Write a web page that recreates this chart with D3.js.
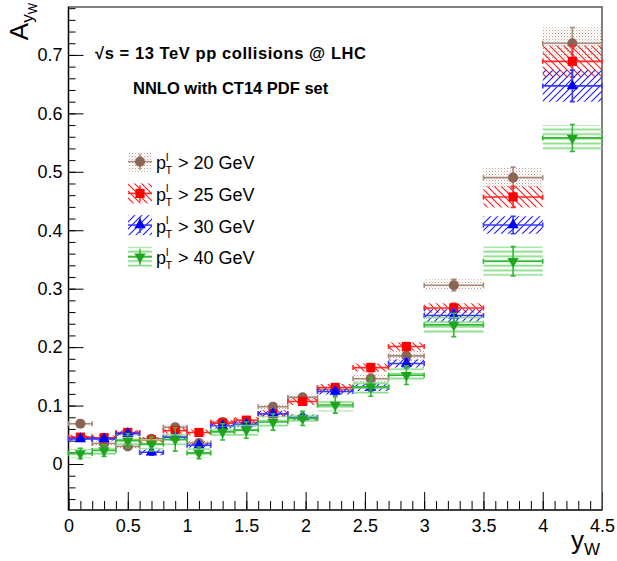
<!DOCTYPE html>
<html><head><meta charset="utf-8">
<script src="https://cdn.jsdelivr.net/npm/d3@7"></script>
<style>body{margin:0;background:#fff}svg{display:block;font-family:"Liberation Sans",Arial,Helvetica,sans-serif}</style>
</head><body><svg id="c" width="617" height="561"></svg>
<script>
// ---- data ----
const binEdges = [0,0.2,0.4,0.6,0.8,1.0,1.2,1.4,1.6,1.85,2.1,2.4,2.7,3.0,3.5,4.0,4.5];

const pt20Val  = [0.069,0.035,0.030,0.043,0.063,0.036,0.072,0.071,0.098,0.114,0.128,0.146,0.185,0.306,0.490,0.720];
const pt20Sys  = [0.004,0.004,0.004,0.004,0.005,0.005,0.005,0.005,0.006,0.006,0.007,0.008,0.009,0.010,0.017,0.027];
const pt20Stat = [0.004,0.004,0.004,0.004,0.005,0.005,0.005,0.005,0.006,0.006,0.007,0.008,0.009,0.010,0.018,0.027];

const pt25Val  = [0.046,0.045,0.054,0.041,0.057,0.054,0.070,0.075,0.086,0.107,0.131,0.165,0.201,0.267,0.457,0.689];
const pt25Sys  = [0.004,0.004,0.004,0.005,0.005,0.005,0.005,0.005,0.006,0.006,0.006,0.007,0.007,0.008,0.018,0.027];
const pt25Stat = [0.004,0.004,0.004,0.005,0.005,0.005,0.005,0.005,0.006,0.006,0.006,0.007,0.007,0.008,0.018,0.027];

const pt30Val  = [0.043,0.043,0.052,0.020,0.046,0.032,0.065,0.068,0.086,0.080,0.124,0.131,0.172,0.254,0.409,0.647];
const pt30Sys  = [0.003,0.003,0.004,0.005,0.004,0.004,0.004,0.005,0.005,0.005,0.005,0.006,0.007,0.011,0.015,0.027];
const pt30Stat = [0.004,0.004,0.004,0.005,0.005,0.005,0.005,0.005,0.006,0.006,0.006,0.007,0.008,0.011,0.015,0.027];

const pt40Val  = [0.018,0.023,0.040,0.034,0.042,0.019,0.055,0.058,0.072,0.078,0.101,0.132,0.152,0.238,0.347,0.558];
const pt40Sys  = [0.008,0.008,0.009,0.009,0.010,0.008,0.010,0.010,0.010,0.010,0.011,0.012,0.012,0.014,0.025,0.022];
const pt40Stat = [0.009,0.010,0.012,0.012,0.020,0.010,0.014,0.014,0.014,0.012,0.014,0.016,0.016,0.020,0.025,0.023];

const legendCuts = ["20","25","30","40"];
const xTicks = [0,0.5,1,1.5,2,2.5,3,3.5,4,4.5];
const xTickLabels = ["0","0.5","1","1.5","2","2.5","3","3.5","4","4.5"];
const yTicks = [0,0.1,0.2,0.3,0.4,0.5,0.6,0.7];
const yTickLabels = ["0","0.1","0.2","0.3","0.4","0.5","0.6","0.7"];

// ---- setup ----
const svg = d3.select("#c");
const L = 68.5, R = 602, T = 7, B = 510;
const x = d3.scaleLinear().domain([0,4.5]).range([L,R]);
const y = d3.scaleLinear().domain([-0.0787,0.782]).range([B,T]);

const defs = svg.append("defs");
const pb = defs.append("pattern").attr("id","patBrown").attr("patternUnits","userSpaceOnUse").attr("width",3).attr("height",3);
pb.append("rect").attr("x",0).attr("y",0).attr("width",1).attr("height",1).attr("fill","#b9a095");
pb.append("rect").attr("x",1.5).attr("y",1.5).attr("width",1).attr("height",1).attr("fill","#d5c6be");
const pr = defs.append("pattern").attr("id","patRed").attr("patternUnits","userSpaceOnUse").attr("width",7).attr("height",7);
pr.append("path").attr("d","M0,0L7,7M-2,5L2,9M5,-2L9,2").attr("stroke","#ff1a1a").attr("stroke-width",1.1).attr("fill","none");
const pbl = defs.append("pattern").attr("id","patBlue").attr("patternUnits","userSpaceOnUse").attr("width",7).attr("height",7);
pbl.append("path").attr("d","M0,7L7,0M-2,2L2,-2M5,9L9,5").attr("stroke","#1a1aff").attr("stroke-width",1.1).attr("fill","none");
const pg = defs.append("pattern").attr("id","patGreen").attr("patternUnits","userSpaceOnUse").attr("width",6).attr("height",4.7);
pg.append("rect").attr("x",0).attr("y",1.6).attr("width",6).attr("height",1.8).attr("fill","#86dc86");

const series = [
  {val:pt20Val, sys:pt20Sys, stat:pt20Stat, pat:"url(#patBrown)", bar:"#a88a7c", mark:"#8c6454", sym:d3.symbolCircle, size:80, rot:0},
  {val:pt25Val, sys:pt25Sys, stat:pt25Stat, pat:"url(#patRed)", bar:"#ff2a2a", mark:"#ff0000", sym:d3.symbolSquare, size:84, rot:0},
  {val:pt30Val, sys:pt30Sys, stat:pt30Stat, pat:"url(#patBlue)", bar:"#3a3aff", mark:"#0000ff", sym:d3.symbolTriangle, size:55, rot:0},
  {val:pt40Val, sys:pt40Sys, stat:pt40Stat, pat:"url(#patGreen)", bar:"#36b836", mark:"#1ea51e", sym:d3.symbolTriangle, size:55, rot:180}
];

// ---- axes ----
const xMinor = d3.range(0,4.5001,0.1).map(v=>+v.toFixed(2));
svg.append("g").attr("transform",`translate(0,${B})`)
  .call(d3.axisBottom(x).tickValues(xMinor).tickSizeInner(-9).tickSizeOuter(0).tickFormat(""))
  .call(g=>g.select(".domain").remove());
svg.append("g").attr("transform",`translate(0,${B})`)
  .call(d3.axisBottom(x).tickValues(xTicks).tickSizeInner(-18).tickSizeOuter(0).tickPadding(9)
    .tickFormat((d,i)=>xTickLabels[i]))
  .call(g=>g.select(".domain").remove())
  .call(g=>g.selectAll("text").attr("font-size",18).attr("font-family","Liberation Sans, Arial, sans-serif").attr("fill","#000"));

const yMinor = d3.range(-0.06,0.7801,0.02).map(v=>+v.toFixed(2));
svg.append("g").attr("transform",`translate(${L},0)`)
  .call(d3.axisLeft(y).tickValues(yMinor).tickSizeInner(-7).tickSizeOuter(0).tickFormat(""))
  .call(g=>g.select(".domain").remove());
svg.append("g").attr("transform",`translate(${L},0)`)
  .call(d3.axisLeft(y).tickValues(yTicks).tickSizeInner(-15).tickSizeOuter(0).tickPadding(6)
    .tickFormat((d,i)=>yTickLabels[i]))
  .call(g=>g.select(".domain").remove())
  .call(g=>g.selectAll("text").attr("font-size",18).attr("font-family","Liberation Sans, Arial, sans-serif").attr("fill","#000"));

svg.append("rect").attr("x",L).attr("y",T).attr("width",R-L).attr("height",B-T)
  .attr("fill","none").attr("stroke","#555").attr("stroke-width",1.5);
svg.append("line").attr("x1",L).attr("x2",L).attr("y1",T).attr("y2",B).attr("stroke","#000").attr("stroke-width",1.2);
svg.append("line").attr("x1",L).attr("x2",R).attr("y1",B).attr("y2",B).attr("stroke","#000").attr("stroke-width",1.2);

// ---- data drawing ----
const bins = d3.range(binEdges.length-1).map(i=>({lo:binEdges[i],hi:binEdges[i+1],c:(binEdges[i]+binEdges[i+1])/2,i}));
const plot = svg.append("g");
const cap = 2.5;
series.forEach(s=>{
  const g = plot.append("g");
  g.selectAll("rect.box").data(bins).join("rect").attr("class","box")
    .attr("x",d=>x(d.lo)).attr("width",d=>x(d.hi)-x(d.lo))
    .attr("y",d=>y(s.val[d.i]+s.sys[d.i])).attr("height",d=>y(s.val[d.i]-s.sys[d.i])-y(s.val[d.i]+s.sys[d.i]))
    .attr("fill",s.pat);
  const eb = g.append("g").attr("stroke",s.bar).attr("stroke-width",1.6).attr("fill","none");
  bins.forEach(d=>{
    const yy = y(s.val[d.i]), xc = x(d.c);
    const y1 = y(s.val[d.i]+s.stat[d.i]), y2 = y(s.val[d.i]-s.stat[d.i]);
    eb.append("path").attr("d",
      `M${x(d.lo)},${yy}H${x(d.hi)}M${x(d.lo)},${yy-cap}V${yy+cap}M${x(d.hi)},${yy-cap}V${yy+cap}`+
      `M${xc},${y1}V${y2}M${xc-cap},${y1}H${xc+cap}M${xc-cap},${y2}H${xc+cap}`);
  });
  g.selectAll("path.m").data(bins).join("path").attr("class","m")
    .attr("d",d3.symbol().type(s.sym).size(s.size))
    .attr("transform",d=>`translate(${x(d.c)},${y(s.val[d.i])}) rotate(${s.rot})`)
    .attr("fill",s.mark);
});

// ---- legend ----
const lg = svg.append("g");
series.forEach((s,i)=>{
  const cy = 161.7 + i*31.7;
  lg.append("rect").attr("x",128).attr("y",cy-10).attr("width",24).attr("height",20).attr("fill",s.pat);
  lg.append("line").attr("x1",128).attr("x2",152).attr("y1",cy).attr("y2",cy).attr("stroke",s.bar).attr("stroke-width",1.6);
  lg.append("line").attr("x1",140).attr("x2",140).attr("y1",cy-8).attr("y2",cy+8).attr("stroke",s.bar).attr("stroke-width",1.6);
  lg.append("path").attr("d",d3.symbol().type(s.sym).size(s.size)).attr("transform",`translate(140,${cy}) rotate(${s.rot})`).attr("fill",s.mark);
  const t = lg.append("text").attr("x",156).attr("y",cy+7.5).attr("font-size",18);
  t.append("tspan").text("p");
  t.append("tspan").attr("font-size",11).attr("dy",-8.5).text("l");
  t.append("tspan").attr("font-size",11).attr("x",165.5).attr("dy",13.5).text("T");
  t.append("tspan").attr("x",178).attr("dy",-5).text(`> ${legendCuts[i]} GeV`);
});

// ---- annotations ----
svg.append("text").attr("x",95).attr("y",59).attr("font-size",16.5).attr("font-weight","bold")
  .attr("textLength",271).attr("lengthAdjust","spacing").text("√s = 13 TeV pp collisions @ LHC");
svg.append("text").attr("x",133).attr("y",94).attr("font-size",16.5).attr("font-weight","bold")
  .text("NNLO with CT14 PDF set");

const yt = svg.append("text").attr("transform","translate(28,3) rotate(-90)").attr("text-anchor","end");
yt.append("tspan").attr("font-size",26).text("A");
yt.append("tspan").attr("font-size",17).attr("dy",5).text("y");
yt.append("tspan").attr("font-size",12).attr("dy",4).text("W");

const xt = svg.append("text").attr("x",600).attr("y",549).attr("text-anchor","end");
xt.append("tspan").attr("font-size",26).text("y");
xt.append("tspan").attr("font-size",17).attr("dy",6).text("W");
</script>
</body></html>
